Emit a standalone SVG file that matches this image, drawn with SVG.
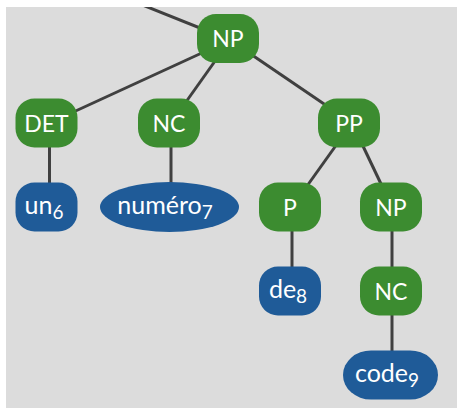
<svg xmlns="http://www.w3.org/2000/svg" width="457" height="411" viewBox="0 0 457 411">
<defs>
<style>
.bg{fill:#dcdcdc}
.edge{stroke:#404040;stroke-width:3;fill:none;stroke-linecap:butt}
.nt{fill:#3c8c30}
.lf{fill:#1f5b98}
text{font-family:Lato,"Open Sans","Liberation Sans",sans-serif;fill:#ffffff;text-anchor:middle}
.tn{font-size:23px}
.tl{font-size:25px}
.sub{font-size:19px}
</style>
<clipPath id="clip"><rect x="6" y="7" width="451" height="401"/></clipPath>
</defs>
<rect class="bg" x="6" y="7" width="451" height="401"/>
<g id="connectors" clip-path="url(#clip)">
<line class="edge" x1="130" y1="0" x2="230" y2="40"/>
<line class="edge" x1="230" y1="40" x2="49.5" y2="123"/>
<line class="edge" x1="230" y1="40" x2="171" y2="123"/>
<line class="edge" x1="230" y1="40" x2="352" y2="123"/>
<line class="edge" x1="49.5" y1="123" x2="49.5" y2="207"/>
<line class="edge" x1="171" y1="123" x2="171" y2="207"/>
<line class="edge" x1="352" y1="123" x2="292" y2="207"/>
<line class="edge" x1="352" y1="123" x2="392" y2="207"/>
<line class="edge" x1="292" y1="207" x2="292" y2="291"/>
<line class="edge" x1="392" y1="207" x2="392" y2="291"/>
<line class="edge" x1="392" y1="291" x2="392" y2="375"/>
</g>
<g id="n-np1"><rect class="nt" x="197" y="14" width="62" height="49" rx="19"/><text class="tn" x="228" y="47">NP</text></g>
<g id="n-det"><rect class="nt" x="15.5" y="98.5" width="62" height="49" rx="19"/><text class="tn" x="46.5" y="131.5">DET</text></g>
<g id="n-nc1"><rect class="nt" x="138" y="98.5" width="62" height="49" rx="19"/><text class="tn" x="169" y="131.5">NC</text></g>
<g id="n-pp"><rect class="nt" x="318" y="98.5" width="62" height="49" rx="19"/><text class="tn" x="349" y="131.5">PP</text></g>
<g id="n-un"><rect class="lf" x="15.5" y="182.5" width="62" height="49" rx="19"/><text class="tl" x="44" y="214">un<tspan class="sub" dy="5">6</tspan></text></g>
<g id="n-numero"><ellipse class="lf" cx="169.5" cy="207" rx="69.5" ry="25"/><text class="tl" x="165" y="214">numéro<tspan class="sub" dy="5">7</tspan></text></g>
<g id="n-p"><rect class="nt" x="259" y="182.5" width="62" height="49" rx="19"/><text class="tn" x="290" y="215.5">P</text></g>
<g id="n-np2"><rect class="nt" x="360" y="182.5" width="62" height="49" rx="19"/><text class="tn" x="391" y="215.5">NP</text></g>
<g id="n-de"><rect class="lf" x="259" y="266.5" width="62" height="49" rx="19"/><text class="tl" x="288" y="297.5">de<tspan class="sub" dy="5">8</tspan></text></g>
<g id="n-nc2"><rect class="nt" x="360" y="266.5" width="62" height="49" rx="19"/><text class="tn" x="391" y="299.5">NC</text></g>
<g id="n-code"><rect class="lf" x="343" y="350.5" width="95" height="49" rx="28" ry="24.5"/><text class="tl" x="387" y="382">code<tspan class="sub" dy="5">9</tspan></text></g>
</svg>
